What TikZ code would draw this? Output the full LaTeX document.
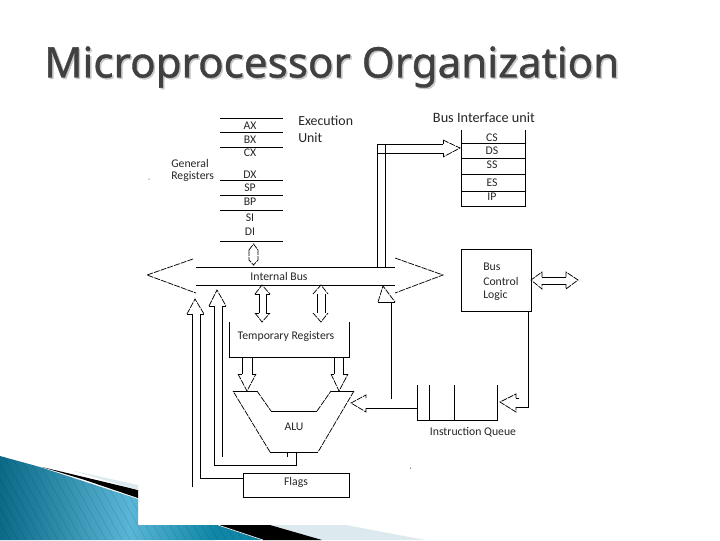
\documentclass[tikz,border=0pt]{standalone}
\usepackage{fontspec}
\setmainfont{Carlito}
\newfontfamily\titlefont[FakeBold=0.9]{Noto Sans}
\definecolor{tealdark}{HTML}{0A6A88}
\definecolor{teallight}{HTML}{5AB6D6}
\definecolor{tealmid}{HTML}{0F86A6}
\definecolor{palebar}{HTML}{DCEAF0}
\definecolor{titlegray}{HTML}{404040}
\definecolor{titleshadow}{HTML}{C8C8C8}
\begin{document}
\begin{tikzpicture}[x=0.75pt,y=-0.75pt,
  wire/.style={draw=black,line width=0.75pt},
  thinwire/.style={draw=black,line width=0.5pt},
  diag/.style={draw=black,line width=0.55pt,dash pattern=on 4.5pt off 0.8pt},
  lbl/.style={inner sep=0pt,font=\fontsize{8.8pt}{10pt}\selectfont,text=black!85},
  biglbl/.style={font=\fontsize{10.4pt}{12pt}\selectfont},
  lbll/.style={lbl,anchor=west},
  boxed/.style={draw=black,line width=0.75pt,inner sep=0pt,minimum width=0pt},
  titletext/.style={anchor=west,inner sep=0pt,font=\titlefont\bfseries\fontsize{31.6pt}{34pt}\selectfont}
]
\useasboundingbox (0,0) rectangle (720,540);
\fill[white] (0,0) rectangle (720,540);
% slide decoration
\begin{scope}
  \clip (0,456) -- (40,467) -- (138,499) -- (138,525) -- (218,525) -- (263,540) -- (0,540) -- cycle;
  \shade[left color=tealdark,right color=teallight] (0,450) rectangle (130,540);
  \shade[left color=teallight,right color=tealmid] (130,450) rectangle (215,540);
  \fill[tealmid] (215,450) rectangle (270,540);
  \foreach \x in {-40,-32,...,260}{\draw[black,opacity=0.12,line width=0.4pt] (\x,450) -- (\x+50,540);}
\end{scope}
\fill[black] (42,467) -- (138,490) -- (138,498) -- (85,480) -- cycle;
\fill[palebar] (70,470) -- (138,485) -- (138,490) -- cycle;
\fill[palebar] (270,525) -- (346,525) -- (425,540) -- (322,540) -- cycle;
\fill[black] (218,525) -- (270,525) -- (322,540) -- (263,540) -- cycle;
\draw[palebar,line width=0.5pt] (218,525) -- (263,540);
% title
\node[titletext,text=titleshadow] (titleshade) at (45.5,68.5) {Microprocessor Organization};
\node[titletext,text=titlegray] (title) at (44,67) {Microprocessor Organization};
% general registers
\foreach \n/\y in {a/118,b/132,c/147,d/180,e/195,f/210,g/241}{
  \coordinate (rl\n) at (220,\y); \coordinate (rr\n) at (283,\y);
  \draw[wire] (rl\n) -- (rr\n);
}
\foreach \n/\t/\y in {ax/AX/126,bx/BX/139.5,cx/CX/153,dx/DX/175,sp/SP/188,bp/BP/202,si/SI/218,di/DI/232}{
  \node[lbl] (\n) at (250,\y) {\t};
}
\node[lbll,biglbl] (exec1) at (298,121) {Execution};
\node[lbll,biglbl] (exec2) at (298,138) {Unit};
\node[lbll] (gen1) at (171,163) {General};
\node[lbll] (gen2) at (171,176) {Registers};
\fill[black] (149,179) circle (0.5);
% register <-> bus
\draw[diag] (249,250) -- (253.5,244) -- (258,250) -- (258,260) -- (253.5,265) -- (249,260) -- cycle;
% internal bus
\coordinate (bustl) at (196,267); \coordinate (bustr) at (395,267);
\coordinate (busbl) at (196,285); \coordinate (busbr) at (395,285);
\draw[wire] (bustl) -- (bustr);
\draw[wire] (busbl) -- (busbr);
\node[lbl] (ibus) at (279,276) {Internal Bus};
\draw[diag] (193,259) -- (147,275) -- (196,293);
\draw[diag] (395,258) -- (443,275) -- (395,293);
% bus to BIU
\coordinate (biuA) at (443,144); \coordinate (biuB) at (443,153);
\draw[wire] (377,267) |- (biuA);
\draw[wire] (385,267) -- (385,144);
\draw[wire] (377,153) -- (biuB);
\draw[diag] (443,140) -- (460,148) -- (443,157);
\draw[thinwire] (443,140) -- (443,144) (443,153) -- (443,157);
% BIU
\node[lbl,font=\fontsize{10.7pt}{12pt}\selectfont] (biut) at (484,118) {Bus Interface unit};
\draw[wire] (461,130) -- (461,206) -- (525,206) -- (525,130);
\foreach \y in {143,158,174,191}{\draw[wire] (461,\y) -- (525,\y);}
\foreach \n/\t/\y in {cs/CS/138,ds/DS/151,ss/SS/165,es/ES/183,ip/IP/197}{
  \node[lbl] (\n) at (492,\y) {\t};
}
% bus control logic
\node[boxed,minimum width=52.5pt,minimum height=46.5pt,anchor=north west] (bcl) at (461,249) {};
\node[lbll] (bcl1) at (483,267) {Bus};
\node[lbll] (bcl2) at (483,281) {Control};
\node[lbll] (bcl3) at (483,295) {Logic};
\draw[wire] (542,277) -- (566,277) (542,284) -- (566,284);
\draw[diag] (542,277) -- (542,272) -- (531,280) -- (542,289) -- (542,284);
\draw[diag] (566,277) -- (566,272) -- (578,280) -- (566,289) -- (566,284);
% bus control to queue
\coordinate (bclout) at (528,311);
\coordinate (qin) at (516,407);
\draw[wire] (bclout) |- (qin);
\draw[wire] (516,398) -- (519,398);
\draw[diag] (516,398) -- (516,394) -- (500,402) -- (516,412) -- (516,407);
% queue
\draw[wire] (417,385) -- (417,420) -- (497,420) -- (497,385);
\draw[wire] (429,385) -- (429,420) (454,385) -- (454,420);
\node[lbl] (iq) at (473,432) {Instruction Queue};
\fill[black] (410.5,468) circle (0.5);
% queue to bus and ALU
\coordinate (qbus) at (391,303);
\draw[wire] (qbus) -- (391,399);
\draw[wire] (378,302) -- (395,302);
\draw[diag] (378,302) -- (383,286) -- (395,302);
\coordinate (qout) at (417,408);
\draw[wire] (qout) -- (366,408);
\draw[diag] (366,408) -- (366,412) -- (351,403) -- (366,395) -- (366,399);
% flags
\node[boxed,minimum width=79.5pt,minimum height=18pt,anchor=north west] (flags) at (243,473) {};
\node[lbl] (flagt) at (296,482) {Flags};
\coordinate (flagout) at ([yshift=-3.75pt]flags.north west);
\draw[wire] (flagout) -| (200,314);
\draw[wire] (192,487) -- (192,314);
\draw[thinwire] (187,314) -- (192,314) (200,314) -- (204,314);
\draw[diag] (187,314) -- (195,299) -- (204,314);
% ALU to bus
\coordinate (alub) at (296,452);
\draw[wire] (alub) -- (296,465) -- (214,465) -- (214,306);
\draw[wire] (222,457) -- (222,306);
\draw[thinwire] (209,306) -- (214,306) (222,306) -- (226,306);
\draw[diag] (209,306) -- (217,290) -- (226,306);
\draw[thinwire] (287,452) -- (287,457);
% temp registers <-> bus
\draw[wire] (259,294) -- (259,313) (266,294) -- (266,313);
\draw[diag] (255,294) -- (262,285) -- (270,294);
\draw[thinwire] (255,294) -- (259,294) (266,294) -- (270,294);
\draw[diag] (255,313) -- (262,322) -- (270,313);
\draw[thinwire] (255,313) -- (259,313) (266,313) -- (270,313);
\draw[thinwire] (317,294) -- (317,313) (325,294) -- (325,313);
\draw[diag] (313,294) -- (321,285) -- (328,294);
\draw[diag] (313,313) -- (321,322) -- (328,313);
% temp registers
\draw[wire] (229,322) -- (229,357) -- (349,357) -- (349,322);
\node[lbl] (temp) at (286,336) {Temporary Registers};
% temp to ALU
\draw[wire] (242,357) -- (242,374) (252,357) -- (252,374);
\draw[wire] (238,374) -- (242,374) (252,374) -- (256,374);
\draw[diag] (238,374) -- (247,391) -- (256,374);
\draw[wire] (334,357) -- (334,374) (343,357) -- (343,374);
\draw[wire] (331,374) -- (334,374) (343,374) -- (348,374);
\draw[diag] (331,374) -- (339,391) -- (348,374);
% ALU
\draw[wire] (233,391) -- (257,391);
\draw[diag] (257,391) -- (271,411);
\draw[wire] (271,411) -- (317,411);
\draw[diag] (317,411) -- (331,391);
\draw[wire] (331,391) -- (354,391);
\draw[diag] (354,391) -- (318,452);
\draw[wire] (318,452) -- (270,452);
\draw[diag] (270,452) -- (233,391);
\node[lbl] (alu) at (294,427) {ALU};
\end{tikzpicture}
\end{document}
